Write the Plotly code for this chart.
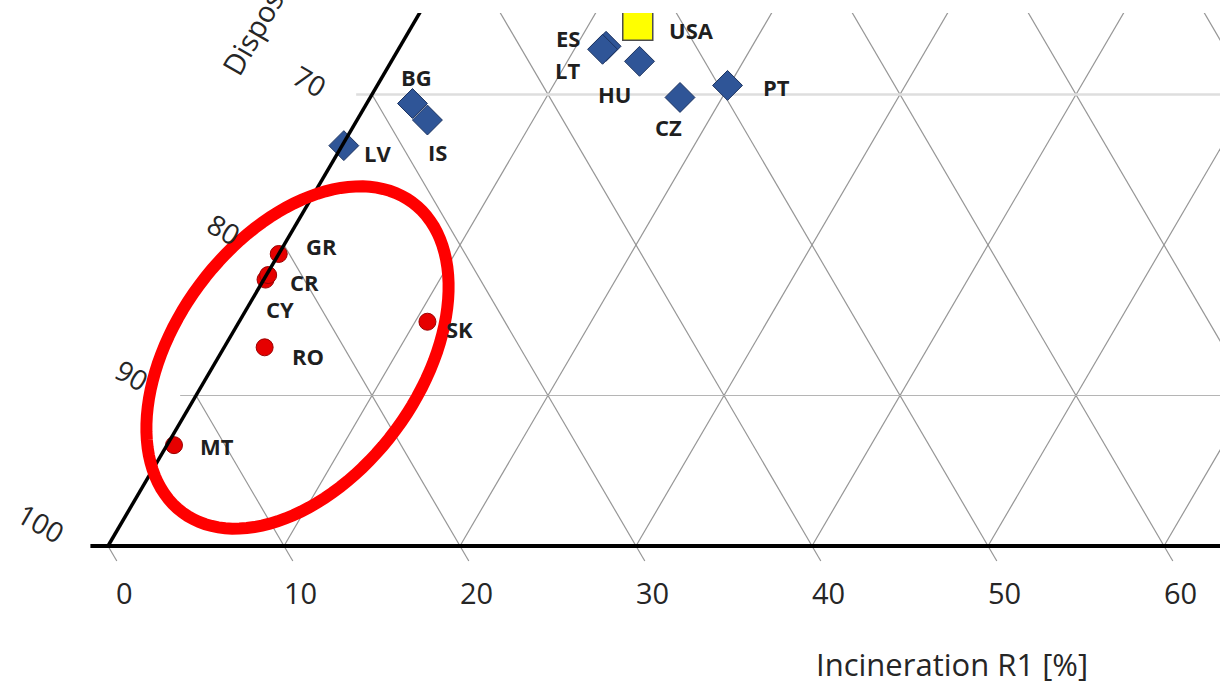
import numpy as np
import plotly.graph_objects as go

# ---------------- data (ternary shares, %) ----------------
countries = ["MT", "RO", "CY", "CR", "GR", "SK", "LV", "BG", "IS",
             "ES", "LT", "HU", "CZ", "PT", "USA"]
incineration = [0.4, 2.3, 0.1, 0.1, 0.0, 10.7, 0.1, 2.6, 4.0,
                11.7, 11.6, 14.1, 17.6, 19.9, 12.8]
disposal = [92.9, 84.5, 82.2, 81.9, 80.6, 74.4, 73.3, 68.0, 67.7,
            55.1, 55.4, 53.7, 52.6, 49.5, 52.6]
group = ["low", "low", "low", "low", "low", "low",
         "eu", "eu", "eu", "eu", "eu", "eu", "eu", "eu", "usa"]

bottom_ticks = [0, 10, 20, 30, 40, 50, 60]
left_ticks = [100, 90, 80, 70]

# ---------------- style ----------------
label_offsets = {  # pixel offsets of country labels from their marker
    "MT": (43, -1), "RO": (43, -9), "CY": (14, -29), "CR": (36, -7),
    "GR": (43, 8), "SK": (32, -7), "LV": (34, -7), "BG": (4, 26),
    "IS": (10, -32), "ES": (-38, 8), "LT": (-35, -21), "HU": (-25, -33),
    "CZ": (-12, -30), "PT": (49, -2), "USA": (54, -5),
}
left_label_offsets = [(-67, 23), (-64, 20.5), (-60, 16), (-62, 13.5)]
FONT = "Open Sans"
S3 = np.sqrt(3) / 2
PXX = 17.6    # pixels per unit, horizontal
PXY = 17.38   # pixels per unit, vertical (source is slightly squashed)
X0, Y0 = 108, 546  # pixel position of the 100 % disposal corner


def to_xy(inc, disp):
    inc = np.asarray(inc, float)
    disp = np.asarray(disp, float)
    rec = 100 - inc - disp
    return inc + rec / 2, rec * S3


fig = go.Figure()

# ---------------- grid ----------------
shapes = []
grid_col = "#969696"
for v in range(10, 101, 10):          # constant incineration (60 deg lines)
    x0, y0 = to_xy(v, 100 - v)
    x1, y1 = to_xy(v, 0)
    shapes.append(dict(type="line", x0=float(x0), y0=float(y0), x1=float(x1), y1=float(y1),
                       line=dict(color=grid_col, width=1.2), layer="below"))
for d in range(100, -1, -10):         # constant disposal (-60 deg lines)
    xb = 100 - d
    shapes.append(dict(type="line", x0=xb + 0.5, y0=-S3, x1=xb / 2, y1=xb * S3,
                       line=dict(color=grid_col, width=1.2), layer="below"))
for r, col, w in [(10, "#b5b5b5", 1.2), (30, "#dedede", 2.5)]:  # horizontal lines
    shapes.append(dict(type="line", x0=r / 2 - 0.9, y0=r * S3, x1=120, y1=r * S3,
                       line=dict(color=col, width=w), layer="below"))

# triangle edges
shapes.append(dict(type="line", x0=-1.0, y0=0, x1=100, y1=0,
                   line=dict(color="#000000", width=4), layer="above"))
shapes.append(dict(type="line", x0=0, y0=0, x1=50, y1=100 * S3,
                   line=dict(color="#000000", width=3.5), layer="above"))

# highlight ellipse (defined in screen pixels, converted to axis units)
cxp, cyp = 297.5, 357.5
a, b, th = 193, 122, np.deg2rad(53.4)
t = np.linspace(0, 2 * np.pi, 121)
exp_ = cxp + a * np.cos(t) * np.cos(th) - b * np.sin(t) * np.sin(th)
eyp_ = cyp - (a * np.cos(t) * np.sin(th) + b * np.sin(t) * np.cos(th))
ex = (exp_ - X0) / PXX
ey = (Y0 - eyp_) / PXY
path = "M " + " L ".join(f"{px:.4f},{py:.4f}" for px, py in zip(ex, ey)) + " Z"
shapes.append(dict(type="path", path=path, line=dict(color="#ff0000", width=12),
                   fillcolor="rgba(0,0,0,0)", layer="above"))

# ---------------- markers ----------------
styles = {
    "low": dict(symbol="circle", size=17, color="#e60000",
                line=dict(color="#9c0000", width=1)),
    "eu": dict(symbol="diamond", size=23, color="#2f5597",
               line=dict(color="#1c3360", width=1)),
    "usa": dict(symbol="square", size=30, color="#ffff00",
                line=dict(color="#4d4d4d", width=1.5)),
}
for g in ["low", "eu", "usa"]:
    idx = [i for i, gg in enumerate(group) if gg == g]
    xs, ys = to_xy([incineration[i] for i in idx], [disposal[i] for i in idx])
    fig.add_trace(go.Scatter(x=xs, y=ys, mode="markers", marker=styles[g],
                             text=[countries[i] for i in idx],
                             hoverinfo="text", showlegend=False))

annotations = []
xs_all, ys_all = to_xy(incineration, disposal)
for c, x, y in zip(countries, xs_all, ys_all):
    dx, dy = label_offsets[c]
    annotations.append(dict(x=float(x), y=float(y), text=c, showarrow=False,
                            xshift=dx, yshift=dy,
                            font=dict(family=FONT, size=22, color="#1f1f1f", weight=700)))

# left axis labels (disposal)
for d, (dx, dy) in zip(left_ticks, left_label_offsets):
    x, y = to_xy(0, d)
    annotations.append(dict(x=float(x), y=float(y), text=str(d), showarrow=False,
                            xshift=dx, yshift=dy, textangle=30,
                            font=dict(family=FONT, size=28, color="#262626")))
# bottom tick labels
for v in bottom_ticks:
    annotations.append(dict(x=v, y=0, text=str(v), showarrow=False,
                            xshift=16, yshift=-46,
                            font=dict(family=FONT, size=29, color="#262626")))
# axis titles
annotations.append(dict(x=(952 - X0) / PXX, y=(Y0 - 664) / PXY, text="Incineration R1 [%]",
                        showarrow=False, font=dict(family=FONT, size=31, color="#262626")))
annotations.append(dict(xref="paper", yref="paper", x=281.5 / 1220, y=(682 + 18.7) / 669,
                        xanchor="center", yanchor="middle",
                        text="Disposal D1 [%]", showarrow=False, textangle=-60,
                        font=dict(family=FONT, size=29, color="#262626")))

fig.update_layout(
    width=1220, height=682,
    margin=dict(l=0, r=0, t=13, b=0),
    paper_bgcolor="white", plot_bgcolor="white",
    xaxis=dict(range=[-X0 / PXX, (1220 - X0) / PXX], visible=False, fixedrange=True),
    yaxis=dict(range=[-(682 - Y0) / PXY, (Y0 - 13) / PXY], visible=False, fixedrange=True),
    shapes=shapes, annotations=annotations, showlegend=False,
)

fig.write_html("out.html", config={"displayModeBar": False},
               post_script="document.body.style.margin='0';document.body.style.overflow='hidden';")
